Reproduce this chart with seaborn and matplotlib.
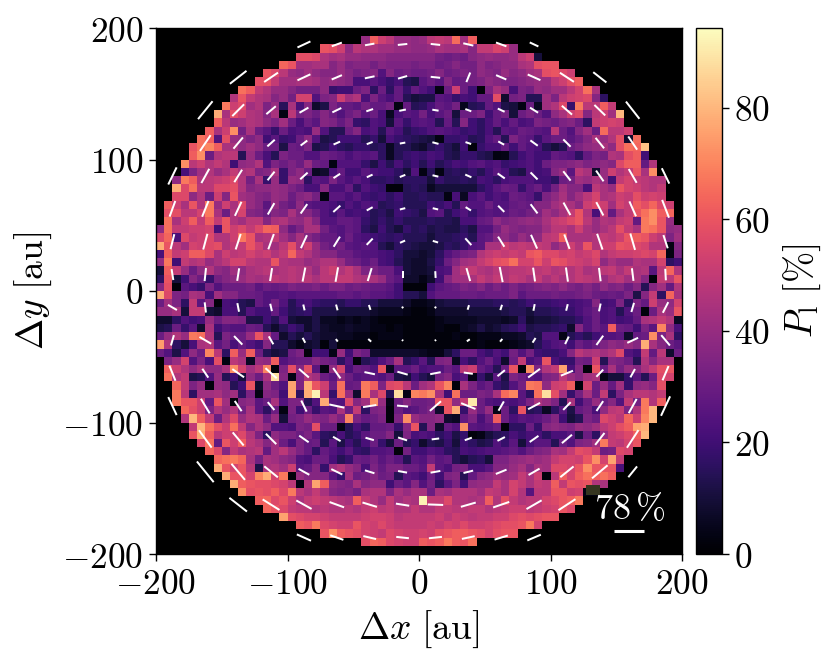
import numpy as np
import pandas as pd
import matplotlib
matplotlib.use('Agg')
import matplotlib.pyplot as plt
from matplotlib.patches import Rectangle
import seaborn as sns

# polarised fraction in %, one list per map row from the top, only the cells inside the disc
row_00 = []
row_01 = [40,62,52,48,40,40,38, 40,48,50,48,65,42,62]
row_02 = [60,58,52,38,48,45,45,42,42,40,40,38, 38,40,44,42,42,44,36,50,50,55,52,40]
row_03 = [58,58,56,45,42,44,40,40,38,38,38,36,36,36,36, 36,36,32,30,32,30,36,38,40,38,38,40,48,52,10]
row_04 = [64,60,42,42,44,44,36,40,34,36,36,32,36,34,34,34,32, 34,34,30,32,36,32,32,38,34,36,38,38,44,46,58,60,60]
row_05 = [60,56,48,40,38,42,38,36,36,40,36,32,34,36,24,36,30,32,30, 30,32,36,30,32,34,32,38,36,34,40,36,38,42,44,58,60,56,52]
row_06 = [58,58,50,42,42,44,44,42,38,40,38,36,22,22,26,22,18,22,14,12, 26,30,26,36,28,30,32,34,38,36,34,34,36,38,40,40,48,52,58,62]
row_07 = [66,62,50,46,40,40,36,32,32,32,38,18,20,20,30,34,16,30,16,28,18,28, 24,20,3,30,52,30,20,2,34,44,40,22,34,32,40,38,42,42,48,54,66,44]
row_08 = [46,60,50,46,44,36,40,32,54,54,24,34,36,52,42,46,22,34,26,22,28,14,10, 12,12,26,24,18,22,20,28,28,58,8,32,34,14,14,42,34,48,52,54,56,36,16]
row_09 = [68,52,56,42,46,34,40,15,44,22,36,8,12,34,28,28,26,32,28,28,32,3,28,14, 16,22,28,26,32,5,14,16,28,24,12,10,3,30,6,42,46,56,18,68,48,48,62,50]
row_10 = [78,44,58,52,46,44,36,44,3,48,32,34,30,36,30,24,30,34,26,30,22,6,22,26,24, 32,22,26,30,10,30,30,34,20,28,32,10,30,34,30,24,38,44,52,56,36,48,52,42,80]
row_11 = [62,48,40,42,46,44,38,34,42,30,22,30,26,36,34,28,34,18,16,24,22,10,26,18,24, 26,24,14,28,14,36,20,16,22,28,22,28,22,24,34,32,30,34,36,30,16,50,52,54,52]
row_12 = [62,44,52,72,32,44,30,26,18,30,22,24,22,40,24,14,14,30,36,22,24,14,26,22,14,18, 20,24,26,24,22,18,20,16,22,14,26,24,30,28,26,24,48,30,24,36,42,30,65,48,48,52]
row_13 = [66,62,24,58,40,38,34,38,20,26,18,20,30,38,24,12,14,20,20,20,14,18,10,22,18,16,14, 12,10,3,18,18,20,14,16,24,28,14,34,28,26,18,26,30,30,26,30,36,44,40,46,58,8,65]
row_14 = [60,66,70,62,44,44,38,42,38,30,30,12,30,28,34,12,14,20,16,14,18,18,14,16,6,14,14,10, 8,14,18,14,10,20,2,18,22,22,28,20,28,24,22,14,10,14,30,34,38,40,44,38,58,66,64,82]
row_15 = [62,72,30,46,48,48,14,40,30,22,14,34,30,30,24,24,30,28,26,22,26,24,26,16,6,14,18,20, 18,22,20,14,12,18,18,14,12,3,4,14,20,24,20,20,28,26,24,16,28,34,32,46,44,58,62,20]
row_16 = [72,48,52,46,50,46,20,38,40,46,24,34,30,34,30,40,30,28,3,24,24,24,18,12,20,14,22,16,20, 14,20,14,18,22,20,24,26,22,24,18,20,22,24,20,30,34,34,36,38,34,36,38,36,56,62,62,28,46]
row_17 = [22,34,42,46,40,44,50,44,46,34,36,44,18,34,38,30,6,8,22,28,20,20,26,22,20,20,16,10,24, 3,14,3,14,16,14,18,14,20,26,22,14,12,24,20,22,36,40,26,48,44,8,40,52,46,50,60,44,72]
row_18 = [38,68,62,46,48,50,52,56,46,32,44,18,40,18,40,38,16,26,24,34,26,22,26,22,16,16,18,14,16,16, 16,10,18,14,14,16,14,22,20,16,22,24,24,24,20,20,16,30,32,42,40,44,40,20,50,54,50,48,46,46]
row_19 = [78,56,66,48,48,56,56,58,46,36,38,38,40,38,34,30,22,22,36,22,22,28,16,24,20,18,2,2,14,16, 14,6,10,10,10,10,10,16,20,26,30,28,18,26,30,22,32,42,36,36,22,48,44,40,60,54,52,48,46,50]
row_20 = [56,56,38,46,30,52,36,60,42,40,36,34,40,38,30,36,38,32,3,26,26,22,26,20,18,20,16,20,14,14, 16,14,14,3,22,6,22,26,20,24,22,30,28,26,18,34,38,44,36,42,48,54,44,46,52,50,58,52,54,52]
row_21 = [62,52,44,60,46,68,40,52,44,56,40,36,26,40,32,28,38,26,24,24,22,18,24,20,24,22,14,16,18,14,14, 14,20,18,22,14,28,24,24,30,24,24,28,30,28,36,36,42,46,44,38,52,56,52,42,54,50,62,58,64,56,52]
row_22 = [58,58,48,48,54,68,44,30,46,54,36,34,30,36,34,44,36,36,30,24,20,26,20,22,20,14,16,12,20,18,16, 12,24,26,14,20,24,18,24,26,24,26,30,28,32,34,42,38,44,50,60,46,22,50,28,44,50,60,66,72,62,64]
row_23 = [66,44,52,62,50,62,50,60,46,42,48,48,36,44,46,40,38,44,36,24,24,28,28,26,18,14,18,14,18,14,14, 14,16,14,14,12,22,22,28,30,38,34,36,38,40,38,44,50,52,56,60,48,40,46,44,50,52,28,68,72,60,40]
row_24 = [38,66,50,50,52,52,54,22,60,52,56,50,56,64,62,38,28,34,44,44,32,26,24,28,26,16,12,20,14,10,18,14, 16,12,14,12,12,16,12,24,24,32,40,36,34,36,36,42,48,48,44,52,44,40,44,48,58,50,44,68,66,60,38,40]
row_25 = [56,64,22,56,50,52,56,46,46,52,68,60,44,46,50,42,36,44,36,32,28,28,24,30,24,22,20,18,16,18,14,14, 14,10,14,14,16,18,14,26,28,36,38,34,40,36,38,48,50,62,44,44,44,46,50,48,52,60,62,60,52,48,34,42]
row_26 = [78,60,48,42,54,52,56,58,46,50,50,60,52,44,42,48,58,44,52,40,32,28,32,26,24,26,24,14,10,16,14,12, 10,10,12,16,14,18,24,26,44,44,52,48,50,48,50,48,38,44,52,46,60,46,52,52,60,58,56,54,46,46,3,36]
row_27 = [22,62,50,52,62,62,56,44,52,48,50,54,50,52,46,50,64,50,46,40,36,36,30,30,26,24,24,22,20,16,10,10, 8,10,16,24,28,32,34,46,50,52,50,52,50,60,62,56,56,52,54,50,52,56,46,50,52,52,54,56,54,64,3,34]
row_28 = [40,68,20,50,46,48,40,44,48,54,54,48,46,46,60,46,44,44,40,42,46,46,40,32,30,26,30,22,20,14,10,8, 8,12,18,30,36,42,44,50,54,58,60,66,54,54,60,52,60,58,54,52,50,54,38,44,40,40,46,44,44,54,16,20]
row_29 = [10,62,50,40,30,38,46,38,36,42,38,44,46,48,44,46,48,46,46,40,48,52,46,50,44,34,34,30,30,22,10,8, 8,10,22,24,42,48,50,46,44,48,46,48,48,50,48,50,46,48,46,50,44,46,48,50,44,50,44,46,26,48,64,46]
row_30 = [16,60,10,20,36,30,18,32,36,38,40,44,42,44,48,46,48,46,48,44,48,48,50,50,46,44,44,40,30,26,8,8, 4,8,20,36,42,42,44,50,46,50,46,50,48,44,50,44,48,44,46,50,48,46,40,46,48,42,44,36,2,50,48,60]
row_31 = [36,58,2,26,22,18,34,24,30,30,30,32,26,30,28,30,34,32,32,34,30,34,34,30,32,30,28,28,26,20,2,2, 2,20,26,28,30,34,32,36,30,34,30,34,30,32,34,36,34,38,34,32,36,32,38,34,36,30,36,14,36,42,28,46]
row_32 = [78,56,34,32,44,42,22,42,36,36,30,30,28,24,24,26,24,26,26,26,26,26,28,28,26,28,26,26,24,20,14,14, 10,24,28,28,28,30,30,28,30,30,30,34,26,30,30,30,32,30,30,32,34,30,28,30,28,34,12,36,50,16,64,44]
row_33 = [30,42,34,16,50,26,36,2,22,20,14,12,28,24,32,24,14,20,22,18,16,16,14,18,18,14,14,10,10,10,8,4, 4,6,10,12,12,12,14,14,14,16,16,14,16,20,18,18,20,22,20,22,24,36,20,22,34,16,34,28,52,40,38,54]
row_34 = [40,40,44,10,50,50,10,8,22,22,14,24,20,20,28,20,14,16,18,12,12,12,10,10,10,10,8,6,6,6,4,2, 2,4,8,8,8,8,10,10,10,10,12,14,14,10,14,14,16,18,18,22,26,30,22,24,14,24,30,2,30,44,40,60]
row_35 = [8,8,16,24,20,22,40,30,36,36,34,12,12,20,14,24,10,8,8,12,6,6,4,6,4,6,4,2,2,2,2,2, 2,2,4,6,6,6,6,8,8,8,6,8,16,8,10,10,12,14,14,18,24,30,22,24,20,22,28,44,46,50,46,6]
row_36 = [12,14,30,18,26,8,44,20,26,24,24,30,28,14,8,14,20,16,8,12,8,6,6,8,6,6,4,4,2,4,2,2, 2,2,4,2,2,6,8,12,8,10,14,16,20,12,14,14,16,18,8,36,24,30,26,62,30,28,20,34,26,70,38,22]
row_37 = [30,40,46,40,68,66,46,14,34,30,30,40,60,44,28,8,14,10,14,10,8,8,6,6,4,4,2,4,4,4,2,2, 2,2,2,2,4,2,2,4,4,4,6,6,8,14,12,24,24,4,14,18,14,20,24,24,26,8,28,30,72,34,44,16]
row_38 = [75,46,16,10,22,44,46,26,32,22,28,24,20,36,14,14,8,4,8,10,2,10,2,2,2,2,2,2,2,2,2,2, 2,2,2,2,2,2,2,4,2,2,2,4,6,8,14,20,24,26,20,30,26,30,34,38,36,40,36,78,44,36,30,26]
row_39 = [30,24,12,24,38,30,70,48,16,62,40,62,30,14,10,12,30,34,2,20,20,4,40,20,34,30,8,8,8,8,8,8, 6,4,4,10,16,30,30,22,18,24,20,32,24,32,20,18,18,22,36,48,44,46,42,46,56,24,20,50,28,48,8,30]
row_40 = [34,40,54,24,34,22,58,3,48,44,6,40,38,62,24,28,30,30,36,32,30,16,24,2,14,18,24,30,44,14,18, 26,14,34,36,6,22,16,24,30,22,8,30,50,22,26,60,22,18,18,32,30,52,14,36,34,30,14,46,36,44,44]
row_41 = [62,52,46,38,44,38,38,44,72,54,42,48,70,2,34,58,36,58,26,3,38,54,22,30,28,24,60,6,26,26,30, 22,24,24,30,26,48,52,28,24,14,30,60,2,72,34,46,50,76,22,36,2,60,30,44,32,40,36,44,50,58,60]
row_42 = [66,46,50,12,14,24,40,14,20,10,38,30,44,88,36,3,34,46,42,30,26,38,30,24,26,26,24,30,12,10,20, 14,10,32,36,22,26,4,18,10,26,12,34,30,26,24,34,36,48,40,36,42,44,4,10,10,18,26,14,30,56,54]
row_43 = [64,50,34,40,2,40,38,14,20,60,8,38,30,24,76,34,78,60,52,30,66,28,30,68,62,34,56,58,48,30, 42,46,60,70,2,44,34,26,30,18,14,24,32,68,66,38,52,54,62,2,54,30,40,28,42,18,38,40,36,58]
row_44 = [68,48,16,42,42,44,38,42,16,34,3,36,34,20,76,16,78,92,48,18,66,40,8,68,44,56,14,88,4,70, 68,72,44,20,66,30,30,34,32,44,65,70,26,16,66,88,58,42,18,32,44,30,50,16,34,44,48,48,46,50]
row_45 = [68,60,60,52,28,60,42,2,36,38,26,30,44,24,34,34,14,24,78,26,24,56,36,42,72,40,4,30,36,30, 30,32,60,60,38,50,90,30,24,22,24,22,26,34,44,40,34,14,44,20,30,40,30,36,24,50,32,68,46,62]
row_46 = [64,58,52,34,46,40,46,32,44,26,16,30,3,34,20,30,18,26,24,44,30,50,16,34,36,2,30,24,26, 30,34,8,60,78,18,40,30,40,4,30,16,60,14,16,6,16,26,12,28,32,22,38,48,50,34,46,68,80]
row_47 = [46,80,62,50,30,46,56,40,46,44,30,40,10,32,34,40,36,34,40,34,70,34,28,30,34,2,34,72,40, 36,36,38,8,6,28,34,22,30,62,30,22,26,24,26,30,36,20,10,14,34,30,56,52,48,64,52,70,80]
row_48 = [50,80,66,58,52,66,50,36,44,38,24,24,22,34,32,58,30,30,4,14,22,16,28,28,30,18,36,60, 14,36,8,28,24,72,26,24,26,30,2,16,16,30,18,36,38,36,34,40,38,42,48,52,58,62,76,78]
row_49 = [60,78,62,48,52,52,56,46,34,16,38,34,34,30,34,26,16,14,22,14,18,26,30,30,36,10,34,22, 24,22,16,20,12,18,2,4,10,14,16,22,18,22,22,16,22,22,26,12,30,16,40,50,52,56,62,80]
row_50 = [56,66,28,60,52,62,48,44,36,42,30,22,34,28,30,14,26,12,20,14,22,30,18,10,30,14,18, 8,14,12,18,10,20,16,12,14,24,18,26,10,22,26,26,14,30,24,34,36,42,68,50,48,54,60]
row_51 = [64,56,36,50,44,46,48,28,42,48,40,34,28,16,28,24,20,26,18,16,24,24,26,2,32,20, 20,24,22,16,14,22,20,22,24,24,26,28,24,30,34,36,44,42,50,58,56,50,30,32,56,54]
row_52 = [64,66,68,64,44,32,44,42,38,36,24,22,30,30,22,14,18,30,28,32,26,30,26,14,26, 24,32,26,28,14,10,14,16,10,34,34,38,40,42,40,42,50,54,54,52,60,72,54,76,50]
row_53 = [78,60,54,60,48,12,44,46,42,52,26,28,36,18,42,46,40,36,22,34,28,34,34,30,30, 26,50,26,22,32,34,22,22,26,36,36,40,44,36,44,42,56,56,54,60,72,60,60,60,22]
row_54 = [78,60,60,54,70,78,54,68,2,40,36,36,36,26,18,42,30,32,36,30,32,14,26,24, 20,30,20,34,36,14,28,36,38,42,40,42,50,44,52,2,48,62,54,62,66,62,66,62]
row_55 = [78,62,60,58,58,56,54,48,3,46,76,62,38,36,34,44,36,38,38,20,30,26,36, 24,32,16,26,34,20,38,40,40,50,44,54,50,44,50,48,62,50,60,58,60,46,44]
row_56 = [72,58,60,58,62,56,68,48,44,50,44,36,34,36,32,44,46,46,34,44,40,44, 44,30,44,42,46,46,46,42,50,48,44,54,46,25,48,48,60,60,52,54,3,3]
row_57 = [62,64,56,60,52,44,50,52,50,48,46,44,62,50,46,40,50,42,46,44, 92,50,50,56,46,46,44,46,62,46,58,50,46,48,48,54,56,60,62,68]
row_58 = [64,60,56,50,48,48,46,48,46,46,48,46,50,52,48,50,46,46,50, 46,46,50,50,48,48,50,50,46,48,50,52,52,48,50,52,54,60,56]
row_59 = [76,58,56,54,54,52,50,50,50,50,52,54,54,52,48,50,50, 50,50,52,48,52,50,48,50,50,52,52,56,58,56,58,60,60]
row_60 = [62,60,68,56,54,52,52,60,54,52,56,52,50,50,50, 50,52,50,54,52,56,52,52,54,56,58,58,60,68,54]
row_61 = [60,72,62,60,58,54,52,50,56,54,52,52, 54,52,58,60,62,62,60,58,54,58,60,60]
row_62 = [58,64,62,56,54,52,52, 62,60,62,68,62,60,66]
row_63 = []

map_rows = [row_00, row_01, row_02, row_03, row_04, row_05, row_06, row_07,
            row_08, row_09, row_10, row_11, row_12, row_13, row_14, row_15,
            row_16, row_17, row_18, row_19, row_20, row_21, row_22, row_23,
            row_24, row_25, row_26, row_27, row_28, row_29, row_30, row_31,
            row_32, row_33, row_34, row_35, row_36, row_37, row_38, row_39,
            row_40, row_41, row_42, row_43, row_44, row_45, row_46, row_47,
            row_48, row_49, row_50, row_51, row_52, row_53, row_54, row_55,
            row_56, row_57, row_58, row_59, row_60, row_61, row_62, row_63]

# polarisation vectors on a 25 au grid, top row first: length in % and angle in degrees
n = None
vec_y = [187.5, 162.5, 137.5, 112.5, 87.5, 62.5, 37.5, 12.5,
         -12.5, -37.5, -62.5, -87.5, -112.5, -137.5, -162.5, -187.5]
vec_x = [-187.5, -162.5, -137.5, -112.5, -87.5, -62.5, -37.5, -12.5,
         12.5, 37.5, 62.5, 87.5, 112.5, 137.5, 162.5, 187.5]
vec_p = [
    [n,n,n,n,36,27,24,24,24,26,28,24,n,n,n,n],
    [n,n,53,42,36,28,25,24,24,26,28,35,42,42,n,n],
    [n,58,42,31,26,25,18,17,16,16,19,24,34,38,55,n],
    [n,48,37,25,21,18,16,14,16,15,17,23,26,34,40,n],
    [48,41,37,28,25,20,16,15,15,17,22,25,30,33,40,43],
    [42,43,39,33,29,24,17,14,14,16,22,29,36,38,41,48],
    [39,41,41,41,36,30,22,14,14,23,30,38,39,42,43,35],
    [28,33,32,33,36,37,34,17,17,34,39,35,36,34,32,29],
    [26,26,22,19,15,15,13,5,5,12,14,17,17,20,24,30],
    [27,34,30,23,14,8,10,4,4,9,9,14,21,29,30,34],
    [41,27,36,38,33,32,27,27,27,23,24,37,33,25,24,39],
    [50,43,31,26,31,39,34,28,37,39,27,34,27,30,41,54],
    [n,54,43,37,29,22,22,24,19,19,21,27,33,38,53,n],
    [n,67,53,44,31,31,25,23,25,25,29,32,43,51,35,n],
    [n,n,56,50,44,39,38,34,39,39,43,44,51,n,n,n],
    [n,n,n,n,39,35,33,32,33,33,35,37,n,n,n,n],
]
vec_ang = [
    [n,n,n,n,25,20,10,6,-6,-13,-20,-25,n,n,n,n],
    [n,n,38,34,25,23,12,16,-6,68,-23,-24,-33,-38,n,n],
    [n,51,45,40,30,26,19,11,-9,-21,-25,-32,-41,-44,-52,n],
    [n,56,50,42,37,24,21,10,-15,-19,-29,-36,-45,-51,-56,n],
    [64,61,58,51,42,33,25,22,-13,-24,-35,-45,-52,-55,-60,-64],
    [70,68,65,60,55,42,29,14,-13,-32,-45,-53,-61,-62,-66,-69],
    [76,75,72,70,65,58,46,24,-17,-48,-58,-66,-70,-71,-74,-72],
    [-81,84,81,81,79,80,73,90,-87,-74,-79,-82,-82,-83,-83,-87],
    [-30,-83,-79,-77,-77,-75,-72,-60,60,73,72,79,76,78,74,63],
    [74,-30,-46,-60,-62,-53,-42,-45,45,34,49,57,64,54,25,-50],
    [-68,-56,-35,-42,-41,-55,-12,-16,11,-8,39,36,22,46,61,67],
    [-65,-59,-56,-50,-64,-12,9,-5,41,-22,60,28,46,56,61,65],
    [n,-54,-50,-45,-35,-30,-16,-18,7,20,27,35,40,52,57,n],
    [n,-51,-50,-39,-29,-26,-17,-10,10,14,22,30,39,40,51,n],
    [n,n,-38,-32,-29,-20,-17,-9,-2,16,19,30,33,n,n,n],
    [n,n,n,n,-24,-19,-13,-6,6,12,17,23,n,n,n,n],
]

x_ticks = [-200, -100, 0, 100, 200]
y_ticks = [200, 100, 0, -100, -200]
cbar_ticks = [0, 20, 40, 60, 80]
cbar_max = 94.3
extent = 200.0
scale_bar = 78

plt.rcParams['mathtext.fontset'] = 'cm'
plt.rcParams['font.family'] = ['DejaVu Serif']
plt.rcParams['axes.linewidth'] = 1.0


def fmt(v):
    return '$' + str(v) + '$'


grid = []
for r in map_rows:
    left = (64 - len(r)) // 2
    grid.append([np.nan] * left + r + [np.nan] * (64 - len(r) - left))
df = pd.DataFrame(grid)

W, H = 831, 663
fig = plt.figure(figsize=(W / 100, H / 100), dpi=100)
ax = fig.add_axes([156 / W, 1 - 554 / H, 526 / W, 526 / H])
cax = fig.add_axes([696 / W, 1 - 554 / H, 26 / W, 526 / H])
ax.set_facecolor('black')

sns.heatmap(df, ax=ax, cbar_ax=cax, cmap='magma', vmin=0, vmax=cbar_max,
            square=False, xticklabels=False, yticklabels=False)

# heatmap axes run in cell numbers, 0..64 left to right and top to bottom
to_col = lambda v: (np.asarray(v, dtype=float) + extent) / (2 * extent) * 64
to_row = lambda v: (extent - np.asarray(v, dtype=float)) / (2 * extent) * 64

xx, yy = np.meshgrid(vec_x, vec_y)
p = np.array(vec_p, dtype=float)
a = np.deg2rad(np.array(vec_ang, dtype=float))
ax.quiver(to_col(xx), to_row(yy), p * np.cos(a), p * np.sin(a), angles='uv',
          units='dots', scale_units='dots', scale=78 / 31, width=2, pivot='mid',
          color='white', headwidth=1, headlength=0, headaxislength=0, minlength=0)

ax.set_xticks(to_col(x_ticks))
ax.set_xticklabels([fmt(v) for v in x_ticks], fontsize=25.5, rotation=0)
ax.set_yticks(to_row(y_ticks))
ax.set_yticklabels([fmt(v) for v in y_ticks], fontsize=25.5, rotation=0)
ax.tick_params(length=5, width=1, pad=4)
ax.set_xlabel(r'$\Delta x\ [\mathrm{au}]$', fontsize=27, labelpad=6)
ax.set_ylabel(r'$\Delta y\ [\mathrm{au}]$', fontsize=27, labelpad=6)
for s in ax.spines.values():
    s.set_visible(True)
    s.set_color('black')

# faint dark smudge behind the scale label in the reference
ax.add_patch(Rectangle((0.8175, 0.112), 0.027, 0.019, transform=ax.transAxes,
                       facecolor='#35351f', edgecolor='none', zorder=3))
ax.text(0.90, 0.085, r'$78\,\%$', transform=ax.transAxes, color='white',
        fontsize=26, ha='center', va='center')
ax.plot([0.87, 0.927], [0.0445, 0.0445], transform=ax.transAxes, color='white',
        lw=2.2, solid_capstyle='butt')

cbar = ax.collections[0].colorbar
cbar.outline.set_visible(True)
cbar.outline.set_linewidth(1.0)
cbar.outline.set_edgecolor('black')
cbar.set_ticks(cbar_ticks)
cbar.set_ticklabels([fmt(v) for v in cbar_ticks], fontsize=25.5)
cax.tick_params(length=5, width=1, pad=4)
cbar.set_label(r'$P_\mathrm{l}\ [\%]$', fontsize=27, labelpad=8)

fig.savefig('out.png', dpi=100)
